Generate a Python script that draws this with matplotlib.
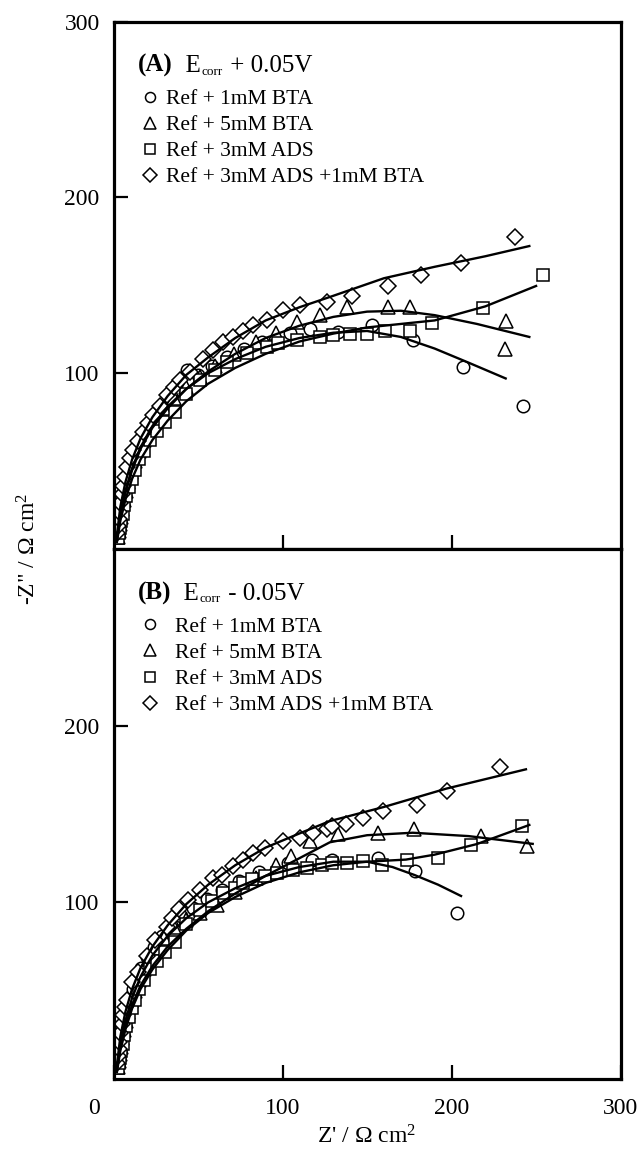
import matplotlib
matplotlib.use("Agg")
import matplotlib.pyplot as plt
from matplotlib.transforms import ScaledTranslation

# ---- panel A : Ecorr + 0.05 V ----
a_circle_x = [2.4, 2.8, 3.3, 3.9, 4.6, 5.5, 6.6, 7.9, 9.5, 11.4, 13.7, 16.5, 19.8, 23.8, 28.5, 34,
              43.3, 50, 58, 67, 77, 88, 104.4, 116.3, 133, 152.8, 177.4, 206.6, 242.5]
a_circle_y = [8, 11, 15, 19, 24, 29, 34, 39.5, 45, 51, 57, 63, 69, 75, 81, 87,
              101.7, 99, 104, 109, 114, 118, 122.7, 125.4, 123.6, 127.3, 118.8, 103.6, 81.3]
a_circle_fit_x = [2, 4, 7, 11, 16, 23, 32, 43, 56, 72, 90, 110, 130, 150, 170, 190, 210, 232]
a_circle_fit_y = [6, 20, 33, 46, 58, 70, 81, 91, 100, 108, 115, 120, 123, 124, 120.6, 114, 106, 97]

a_tri_x = [2.6, 3.1, 3.7, 4.4, 5.2, 6.2, 7.4, 8.8, 10.5, 12.5, 14.9, 17.8, 21.2, 25.3, 30, 36,
           43, 51, 60, 71, 84, 96, 108.4, 122, 138, 162.6, 175.4, 232.2, 231.7]
a_tri_y = [7, 10, 14, 18, 23, 28, 33, 38, 44, 50, 56, 62, 68, 74, 80, 86,
           92, 98, 104, 111, 118, 123, 129, 133, 137.7, 137.7, 137.7, 129.7, 114]
a_tri_fit_x = [2, 4, 7, 11, 16, 23, 32, 43, 56, 72, 90, 110, 130, 150, 170, 190, 215, 246]
a_tri_fit_y = [5, 19, 32, 45, 57, 69, 80, 91, 101, 111, 120, 127, 132, 135, 135.5, 133, 128, 120.6]

a_sq_x = [2.8, 3.3, 3.9, 4.6, 5.4, 6.4, 7.6, 9, 10.7, 12.7, 15.1, 18, 21.5, 25.6, 30.5, 36.4, 43,
          51.2, 60, 67, 78.8, 90.7, 97.5, 108.4, 122.2, 130, 139.9, 149.8, 160.7, 175.4, 188.3,
          218.5, 254.3]
a_sq_y = [6, 9, 12, 16, 20, 25, 30, 35, 40, 45, 51, 56, 62, 67, 72, 78, 88,
          96, 101.7, 106.4, 111.2, 115, 116.9, 118.8, 120.6, 121.6, 122.5, 122.5, 124, 123.9, 128.8,
          136.8, 155.7]
a_sq_fit_x = [2, 4, 7, 11, 16, 23, 32, 43, 56, 72, 90, 110, 130, 150, 170, 190, 220, 250]
a_sq_fit_y = [4, 16, 28, 40, 51, 62, 73, 84, 94, 103, 111, 118, 122.5, 126, 128, 130, 138, 149.6]

a_dia_x = [2.2, 2.6, 3.0, 3.5, 4.1, 4.8, 5.7, 6.7, 8, 9.6, 11.7, 14.3, 17.6, 20.5, 23.6, 27.5,
           31.5, 35.5, 39.3, 45.3, 53.1, 59, 65, 70.9, 76.5, 82.7, 90.7, 100.5, 110.4, 126, 141,
           162.6, 181.8, 205.4, 237.5]
a_dia_y = [9, 13, 17, 21, 26, 31, 36, 41, 46.5, 51.5, 56.3, 61.5, 66.7, 71.5, 76, 81.5,
           87.5, 92, 96, 100.7, 108.3, 113, 117.8, 120.6, 124, 127.3, 130, 135.8, 138.6, 140.5, 144,
           149.6, 155.7, 162.7, 177.3]
a_dia_fit_x = [2, 4, 7, 11, 16, 23, 32, 43, 56, 72, 90, 110, 130, 160, 190, 220, 246]
a_dia_fit_y = [8, 24, 38, 51, 63, 75, 87, 99, 109, 120, 130, 137.5, 144, 154, 160.5, 166.5, 172.3]

# ---- panel B : Ecorr - 0.05 V ----
b_circle_x = [2.4, 2.8, 3.3, 3.9, 4.6, 5.5, 6.6, 7.9, 9.5, 11.4, 13.7, 16.5, 19.8, 23.8, 28.5, 34,
              40, 47, 55, 64, 74, 86, 103.4, 117.3, 129.1, 156.7, 178.4, 203]
b_circle_y = [8, 11, 15, 19, 24, 29, 34, 39.5, 45, 51, 57, 63, 69, 75, 81, 87,
              92, 97, 102, 107, 112, 117, 122.3, 124.2, 124.2, 125.1, 117.9, 93.7]
b_circle_fit_x = [2, 4, 7, 11, 16, 23, 32, 43, 56, 72, 90, 110, 130, 150, 165, 178, 192, 205.6]
b_circle_fit_y = [6, 20, 33, 46, 58, 70, 81, 91, 100, 108, 115, 120, 123, 123, 120, 115.5, 110, 103.6]

b_tri_x = [2.6, 3.1, 3.7, 4.4, 5.2, 6.2, 7.4, 8.8, 10.5, 12.5, 14.9, 17.8, 21.2, 25.3, 30, 36,
           43, 51, 61, 72, 84, 96, 105, 116.3, 133, 156.7, 177.8, 217.5, 244.5]
b_tri_y = [7, 10, 14, 18, 23, 28, 33, 38, 44, 50, 56, 62, 68, 74, 80, 86,
           90, 94, 98.5, 106, 114, 121, 126, 134.7, 138.5, 139.4, 141.3, 137.5, 131.8]
b_tri_fit_x = [2, 4, 7, 11, 16, 23, 32, 43, 56, 72, 90, 110, 128, 150, 177, 210, 248]
b_tri_fit_y = [5, 18, 30, 42, 53, 64, 75, 85, 95, 105, 115, 125, 134, 138, 139.4, 137.5, 133.1]

b_sq_x = [2.8, 3.3, 3.9, 4.6, 5.4, 6.4, 7.6, 9, 10.7, 12.7, 15.1, 18, 21.5, 25.6, 30.5, 36.4, 43,
          51.2, 58, 65, 71.9, 76.8, 82, 89.6, 96.6, 106.4, 114.3, 123.2, 129.1, 138, 147.8, 158.7,
          173.5, 192.2, 211.3, 241.5]
b_sq_y = [6, 9, 12, 16, 20, 25, 30, 35, 40, 45, 51, 56, 62, 67, 72, 77.5, 88,
          95.6, 101, 105.1, 108, 110.9, 113, 114.7, 116.6, 118.5, 119.4, 121.3, 122.3, 122.3, 123.2, 121.3,
          123.8, 125.1, 132.2, 143.3]
b_sq_fit_x = [2, 4, 7, 11, 16, 23, 32, 43, 56, 72, 90, 110, 130, 150, 173, 190, 215, 246]
b_sq_fit_y = [4, 16, 28, 40, 51, 62, 73, 84, 94, 103, 111, 117, 121, 123, 124.2, 127, 133, 143.8]

b_dia_x = [2.2, 2.6, 3.0, 3.5, 4.1, 4.8, 5.7, 6.8, 8.2, 10.8, 14.7, 19.6, 24.6, 31.5, 34.4, 39,
           44.3, 51.2, 59, 64, 70.9, 76.5, 82.7, 89.6, 100.5, 110.4, 118, 126.1, 129.1, 137.6, 147.4,
           159.6, 179.8, 197.5, 228.7]
b_dia_y = [9, 13, 17, 21, 26, 31, 36, 41, 45, 54.7, 60.4, 69.9, 78.5, 86.1, 90.9, 96,
           101.3, 107, 113.7, 115.6, 120.4, 124, 128, 130.9, 134.7, 136.6, 139, 141.3, 143.3, 144.6, 148,
           151.8, 155.3, 163.2, 176.6]
b_dia_fit_x = [2, 4, 7, 11, 16, 23, 32, 43, 56, 72, 90, 110, 128, 160, 197, 244]
b_dia_fit_y = [8, 24, 38, 51, 63, 75, 87, 99, 110, 121, 131, 139, 146, 154, 164.4, 175.3]

labels = ["Ref + 1mM BTA", "Ref + 5mM BTA", "Ref + 3mM ADS", "Ref + 3mM ADS +1mM BTA"]
markers = ["o", "^", "s", "D"]
marker_sizes = [9, 10, 8.5, 8.5]


def draw_title(ax, tag, rest):
    # "(A)  E" + small subscript "corr" + " + 0.05V"
    t1 = ax.text(0.048, 0.917, tag, transform=ax.transAxes, fontsize=18,
                 fontweight="bold", va="center")
    t2 = ax.annotate("  E", xy=(1, 0), xycoords=t1, fontsize=18, va="bottom")
    t3 = ax.annotate("corr", xy=(1, 0), xycoords=t2, xytext=(0.5, -0.5),
                     textcoords="offset points", fontsize=9.5, va="bottom")
    ax.annotate(rest, xy=(1, 0), xycoords=(t3, t2), xytext=(1, 0),
                textcoords="offset points", fontsize=18, va="bottom")


def draw_panel(ax, series, fits, tag, rest, text_pad):
    handles = []
    for (x, y), m, ms in zip(series, markers, marker_sizes):
        h, = ax.plot(x, y, ls="none", marker=m, ms=ms, mfc="white", mec="black", mew=1.1)
        handles.append(h)
    for x, y in fits:
        ax.plot(x, y, color="black", lw=1.7)
    ax.set_xlim(0, 300)
    ax.set_ylim(0, 300)
    for sp in ax.spines.values():
        sp.set_linewidth(2.3)
    ax.tick_params(direction="in", length=10, width=1.6, labelsize=17,
                   top=False, right=False, pad=10)
    draw_title(ax, tag, rest)
    ax.legend(handles, labels, loc="upper left", bbox_to_anchor=(0.052, 0.872),
              frameon=False, fontsize=15.5, handlelength=0.9, handletextpad=text_pad,
              labelspacing=0.28, borderaxespad=0, borderpad=0, markerscale=0.8)


def main():
    plt.rcParams["font.family"] = ["Liberation Serif", "DejaVu Serif"]
    plt.rcParams["mathtext.fontset"] = "custom"
    plt.rcParams["mathtext.rm"] = "Liberation Serif"
    plt.rcParams["mathtext.it"] = "Liberation Serif:italic"
    plt.rcParams["mathtext.bf"] = "Liberation Serif:bold"

    fig = plt.figure(figsize=(6.38, 11.57), dpi=100)
    ax_a = fig.add_axes([0.178, 0.5255, 0.7947, 0.4559])
    ax_b = fig.add_axes([0.178, 0.0674, 0.7947, 0.4581])

    draw_panel(ax_a,
               [(a_circle_x, a_circle_y), (a_tri_x, a_tri_y), (a_sq_x, a_sq_y), (a_dia_x, a_dia_y)],
               [(a_circle_fit_x, a_circle_fit_y), (a_tri_fit_x, a_tri_fit_y),
                (a_sq_fit_x, a_sq_fit_y), (a_dia_fit_x, a_dia_fit_y)],
               "(A)", " + 0.05V", 0.3)
    draw_panel(ax_b,
               [(b_circle_x, b_circle_y), (b_tri_x, b_tri_y), (b_sq_x, b_sq_y), (b_dia_x, b_dia_y)],
               [(b_circle_fit_x, b_circle_fit_y), (b_tri_fit_x, b_tri_fit_y),
                (b_sq_fit_x, b_sq_fit_y), (b_dia_fit_x, b_dia_fit_y)],
               "(B)", " - 0.05V", 0.75)

    ax_a.set_xticks([100, 200])
    ax_a.set_xticklabels([])
    ax_a.set_yticks([100, 200, 300])
    ax_b.set_yticks([100, 200])
    ax_b.set_xticks([0, 100, 200, 300])
    ax_b.tick_params(axis="x", pad=14)

    # the "0" label sits left of the axis corner in the original
    lab0 = ax_b.get_xticklabels()[0]
    lab0.set_transform(lab0.get_transform() + ScaledTranslation(-0.2, 0, fig.dpi_scale_trans))

    fig.text(0.575, 0.017, r"Z' / $\Omega$ cm$^2$", fontsize=17, ha="center", va="center")
    fig.text(0.045, 0.5255, r'-Z" / $\Omega$ cm$^2$', fontsize=17, rotation=90,
             ha="center", va="center")

    fig.savefig("out.png", dpi=100)


if __name__ == "__main__":
    main()
